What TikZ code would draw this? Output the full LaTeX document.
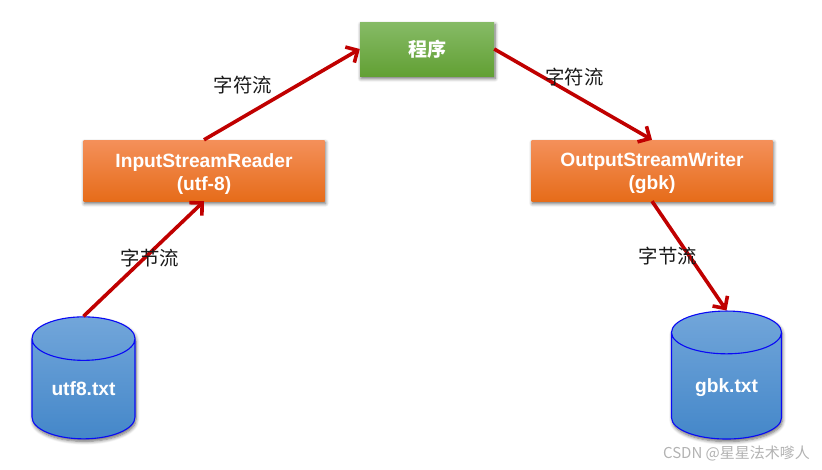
\documentclass[tikz,border=0pt]{standalone}
\usepackage{fontspec}
\setmainfont{Liberation Sans}
\newfontfamily\cjk{Noto Sans CJK SC}
\usetikzlibrary{arrows.meta,shapes.geometric,shadows.blur}
\definecolor{flow_red}{HTML}{C00000}
\begin{document}
\begin{tikzpicture}[
    x=1pt, y=-1pt,
    box_shadow/.style={blur shadow={shadow xshift=1pt, shadow yshift=-2.5pt, shadow blur steps=6, shadow blur radius=3.5pt, shadow opacity=60}},
    orange_box/.style={rectangle, box_shadow, minimum width=241pt, minimum height=61pt, inner sep=0pt, align=center, text=white, font=\fontsize{19.2}{23}\selectfont\bfseries, top color={rgb,255:red,244;green,144;blue,90}, middle color={rgb,255:red,243;green,122;blue,40}, bottom color={rgb,255:red,230;green,108;blue,26}},
    green_box/.style={rectangle, box_shadow, minimum width=134pt, minimum height=54pt, inner sep=0pt, text=white, font=\fontsize{19}{22}\selectfont\cjk\bfseries, top color={rgb,255:red,134;green,187;blue,102}, middle color={rgb,255:red,112;green,173;blue,71}, bottom color={rgb,255:red,98;green,160;blue,52}},
    file_node/.style={cylinder, shape border rotate=90, box_shadow, draw={rgb,255:red,10;green,10;blue,245}, line width=1.1pt, aspect=0.68, inner sep=0pt, text=white, font=\fontsize{19.2}{22}\selectfont\bfseries, top color={rgb,255:red,114;green,166;blue,218}, middle color={rgb,255:red,91;green,155;blue,213}, bottom color={rgb,255:red,68;green,135;blue,201}},
    flow_arrow/.style={draw=flow_red, line width=3.6pt, -{Straight Barb[length=9pt, width=18pt, line width=3.6pt]}},
    flow_label/.style={inner sep=0pt, text=black!90, font=\fontsize{19.4}{22}\selectfont\cjk}
]
\useasboundingbox (0,0) rectangle (822,469);
% boxes
\node[green_box] (program) at (427,49) {程序};
\node[orange_box] (reader) at (204,170.5) {\rule{0pt}{20pt}InputStreamReader\\(utf-8)};
\node[orange_box] (writer) at (652,170.5) {\rule{0pt}{20pt}OutputStreamWriter\\(gbk)};
% files
\node[file_node, minimum width=103pt, minimum height=122pt] (utf8_file) at (83.5,389) {utf8.txt};
\node[file_node, minimum width=110pt, minimum height=128pt] (gbk_file) at (726.5,386) {\raisebox{-2pt}[\height][\depth]{gbk.txt}};
% arrows
\draw[flow_arrow] (utf8_file.north) -- (reader.south);
\draw[flow_arrow] (reader.north) -- (program.west);
\draw[flow_arrow] (program.east) -- (writer.north);
\draw[flow_arrow] (writer.south) -- (gbk_file.north);
% labels
\node[flow_label] (label_a) at (150,258) {字节流};
\node[flow_label] (label_b) at (243,85) {字符流};
\node[flow_label] (label_c) at (574.5,77) {字符流};
\node[flow_label] (label_d) at (668,256) {字节流};
\node[inner sep=0pt, text=black!30, font=\fontsize{15}{16}\selectfont\cjk] (mark) at (736.5,453) {CSDN @星星法术嗲人};
\end{tikzpicture}
\end{document}
